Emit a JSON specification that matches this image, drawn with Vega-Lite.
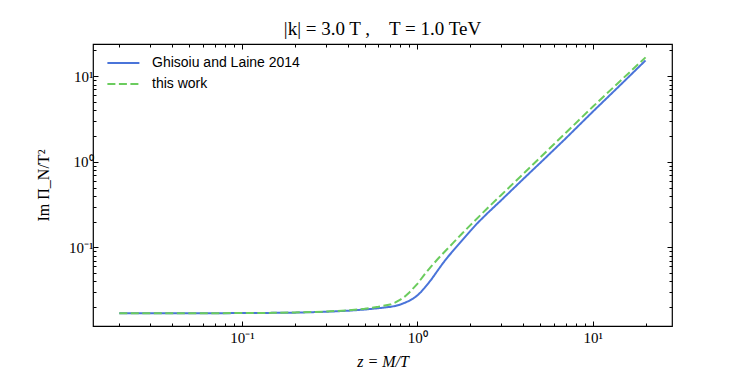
{
  "$schema": "https://vega.github.io/schema/vega-lite/v6.json",
  "width": 579,
  "height": 282,
  "autosize": {"type": "none"},
  "padding": {"left": 93, "top": 44, "right": 75, "bottom": 48},
  "background": "white",
  "title": {
    "text": "|k| = 3.0 T ,\u00a0\u00a0\u00a0\u00a0T = 1.0 TeV",
    "font": "Liberation Serif",
    "fontSize": 19,
    "fontWeight": "normal",
    "color": "black",
    "offset": 4
  },
  "config": {
    "view": {"stroke": "black", "strokeWidth": 1.2},
    "axis": {
      "grid": false,
      "domain": false,
      "tickColor": "black",
      "tickWidth": 1,
      "labelFont": "Liberation Serif",
      "labelFontSize": 15,
      "labelColor": "black",
      "titleFont": "Liberation Serif",
      "titleFontSize": 16,
      "titleFontWeight": "normal",
      "titleColor": "black"
    }
  },
  "data": {
    "values": [
      {"z": 0.02, "y": 0.0170, "s": "Ghisoiu and Laine 2014"},
      {"z": 0.03, "y": 0.0170, "s": "Ghisoiu and Laine 2014"},
      {"z": 0.05, "y": 0.01702, "s": "Ghisoiu and Laine 2014"},
      {"z": 0.07, "y": 0.01705, "s": "Ghisoiu and Laine 2014"},
      {"z": 0.1, "y": 0.0171, "s": "Ghisoiu and Laine 2014"},
      {"z": 0.15, "y": 0.0172, "s": "Ghisoiu and Laine 2014"},
      {"z": 0.2, "y": 0.0173, "s": "Ghisoiu and Laine 2014"},
      {"z": 0.3, "y": 0.0177, "s": "Ghisoiu and Laine 2014"},
      {"z": 0.4, "y": 0.0182, "s": "Ghisoiu and Laine 2014"},
      {"z": 0.5, "y": 0.0188, "s": "Ghisoiu and Laine 2014"},
      {"z": 0.6, "y": 0.0195, "s": "Ghisoiu and Laine 2014"},
      {"z": 0.7, "y": 0.0202, "s": "Ghisoiu and Laine 2014"},
      {"z": 0.75, "y": 0.0207, "s": "Ghisoiu and Laine 2014"},
      {"z": 0.8, "y": 0.0215, "s": "Ghisoiu and Laine 2014"},
      {"z": 0.85, "y": 0.0226, "s": "Ghisoiu and Laine 2014"},
      {"z": 0.9, "y": 0.0238, "s": "Ghisoiu and Laine 2014"},
      {"z": 0.95, "y": 0.0254, "s": "Ghisoiu and Laine 2014"},
      {"z": 1.0, "y": 0.0275, "s": "Ghisoiu and Laine 2014"},
      {"z": 1.05, "y": 0.0302, "s": "Ghisoiu and Laine 2014"},
      {"z": 1.1, "y": 0.0337, "s": "Ghisoiu and Laine 2014"},
      {"z": 1.2, "y": 0.0420, "s": "Ghisoiu and Laine 2014"},
      {"z": 1.3, "y": 0.0530, "s": "Ghisoiu and Laine 2014"},
      {"z": 1.4, "y": 0.0655, "s": "Ghisoiu and Laine 2014"},
      {"z": 1.5, "y": 0.0784, "s": "Ghisoiu and Laine 2014"},
      {"z": 1.6, "y": 0.0915, "s": "Ghisoiu and Laine 2014"},
      {"z": 1.8, "y": 0.121, "s": "Ghisoiu and Laine 2014"},
      {"z": 2.0, "y": 0.155, "s": "Ghisoiu and Laine 2014"},
      {"z": 2.2, "y": 0.192, "s": "Ghisoiu and Laine 2014"},
      {"z": 2.5, "y": 0.249, "s": "Ghisoiu and Laine 2014"},
      {"z": 3.0, "y": 0.354, "s": "Ghisoiu and Laine 2014"},
      {"z": 4.0, "y": 0.625, "s": "Ghisoiu and Laine 2014"},
      {"z": 5.0, "y": 0.965, "s": "Ghisoiu and Laine 2014"},
      {"z": 7.0, "y": 1.87, "s": "Ghisoiu and Laine 2014"},
      {"z": 10.0, "y": 3.85, "s": "Ghisoiu and Laine 2014"},
      {"z": 14.0, "y": 7.5, "s": "Ghisoiu and Laine 2014"},
      {"z": 20.0, "y": 15.3, "s": "Ghisoiu and Laine 2014"},
      {"z": 0.02, "y": 0.0170, "s": "this work"},
      {"z": 0.03, "y": 0.0170, "s": "this work"},
      {"z": 0.05, "y": 0.01702, "s": "this work"},
      {"z": 0.07, "y": 0.01706, "s": "this work"},
      {"z": 0.1, "y": 0.0171, "s": "this work"},
      {"z": 0.15, "y": 0.0172, "s": "this work"},
      {"z": 0.2, "y": 0.0174, "s": "this work"},
      {"z": 0.3, "y": 0.0178, "s": "this work"},
      {"z": 0.4, "y": 0.0184, "s": "this work"},
      {"z": 0.5, "y": 0.0192, "s": "this work"},
      {"z": 0.6, "y": 0.0203, "s": "this work"},
      {"z": 0.7, "y": 0.0215, "s": "this work"},
      {"z": 0.75, "y": 0.0228, "s": "this work"},
      {"z": 0.8, "y": 0.0245, "s": "this work"},
      {"z": 0.85, "y": 0.0268, "s": "this work"},
      {"z": 0.9, "y": 0.0298, "s": "this work"},
      {"z": 0.95, "y": 0.0335, "s": "this work"},
      {"z": 1.0, "y": 0.0375, "s": "this work"},
      {"z": 1.1, "y": 0.0484, "s": "this work"},
      {"z": 1.2, "y": 0.0600, "s": "this work"},
      {"z": 1.3, "y": 0.0722, "s": "this work"},
      {"z": 1.4, "y": 0.0850, "s": "this work"},
      {"z": 1.5, "y": 0.0985, "s": "this work"},
      {"z": 1.6, "y": 0.1130, "s": "this work"},
      {"z": 1.8, "y": 0.1455, "s": "this work"},
      {"z": 2.0, "y": 0.181, "s": "this work"},
      {"z": 2.5, "y": 0.285, "s": "this work"},
      {"z": 3.0, "y": 0.408, "s": "this work"},
      {"z": 4.0, "y": 0.718, "s": "this work"},
      {"z": 5.0, "y": 1.115, "s": "this work"},
      {"z": 7.0, "y": 2.17, "s": "this work"},
      {"z": 10.0, "y": 4.40, "s": "this work"},
      {"z": 14.0, "y": 8.4, "s": "this work"},
      {"z": 20.0, "y": 16.6, "s": "this work"}
    ]
  },
  "encoding": {
    "color": {
      "field": "s",
      "type": "nominal",
      "scale": {"domain": ["Ghisoiu and Laine 2014", "this work"], "range": ["#4a74d9", "#6bcc5e"]},
      "legend": {
        "title": null,
        "orient": "none",
        "legendX": 23.4,
        "legendY": 12,
        "padding": 0,
        "labelFont": "Liberation Sans",
        "labelFontSize": 14,
        "labelColor": "black",
        "symbolType": "M-3.2,0L3.2,0",
        "symbolSize": 100,
        "symbolStrokeWidth": 2,
        "labelOffset": 21.6,
        "rowPadding": 7
      }
    },
    "strokeDash": {
      "field": "s",
      "type": "nominal",
      "scale": {"domain": ["Ghisoiu and Laine 2014", "this work"], "range": [[1, 0], [8, 3.5]]},
      "legend": {
        "title": null,
        "orient": "none",
        "legendX": 23.4,
        "legendY": 12,
        "padding": 0,
        "labelFont": "Liberation Sans",
        "labelFontSize": 14,
        "labelColor": "black",
        "symbolType": "M-3.2,0L3.2,0",
        "symbolSize": 100,
        "symbolStrokeWidth": 2,
        "labelOffset": 21.6,
        "rowPadding": 7
      }
    }
  },
  "layer": [
    {
      "transform": [{"filter": "datum.s == 'Ghisoiu and Laine 2014'"}],
      "mark": {"type": "line", "strokeWidth": 2, "clip": true},
      "encoding": {
        "x": {
          "field": "z",
          "type": "quantitative",
          "scale": {"type": "log", "domain": [0.01416, 28.3], "nice": false, "zero": false},
          "axis": {
            "orient": "bottom",
            "title": "z = M/T",
            "titleFontStyle": "italic",
            "titlePadding": 6,
            "values": [0.02, 0.03, 0.04, 0.05, 0.06, 0.07, 0.08, 0.09, 0.1, 0.2, 0.3, 0.4, 0.5, 0.6, 0.7, 0.8, 0.9, 1, 2, 3, 4, 5, 6, 7, 8, 9, 10, 20],
            "labelExpr": "datum.value == 0.1 ? '10⁻¹' : datum.value == 1 ? '10⁰' : datum.value == 10 ? '10¹' : ''",
            "tickSize": {"condition": {"test": "datum.value == 0.1 || datum.value == 1 || datum.value == 10", "value": -5}, "value": -3},
            "labelPadding": 9,
            "labelOverlap": false,
            "labelFlush": false
          }
        },
        "y": {
          "field": "y",
          "type": "quantitative",
          "scale": {"type": "log", "domain": [0.01208, 23.8], "nice": false, "zero": false},
          "axis": {
            "orient": "left",
            "title": "Im Π_N/T²",
            "titlePadding": 17,
            "values": [0.02, 0.03, 0.04, 0.05, 0.06, 0.07, 0.08, 0.09, 0.1, 0.2, 0.3, 0.4, 0.5, 0.6, 0.7, 0.8, 0.9, 1, 2, 3, 4, 5, 6, 7, 8, 9, 10, 20],
            "labelExpr": "datum.value == 0.1 ? '10⁻¹' : datum.value == 1 ? '10⁰' : datum.value == 10 ? '10¹' : ''",
            "tickSize": {"condition": {"test": "datum.value == 0.1 || datum.value == 1 || datum.value == 10", "value": -5}, "value": -3},
            "labelPadding": 5,
            "labelOverlap": false,
            "labelFlush": false
          }
        }
      }
    },
    {
      "transform": [{"filter": "datum.s == 'this work'"}],
      "mark": {"type": "line", "strokeWidth": 2, "clip": true},
      "encoding": {
        "x": {
          "field": "z",
          "type": "quantitative",
          "scale": {"type": "log", "domain": [0.01416, 28.3], "nice": false, "zero": false},
          "axis": {
            "orient": "top",
            "title": null,
            "labels": false,
            "values": [0.02, 0.03, 0.04, 0.05, 0.06, 0.07, 0.08, 0.09, 0.1, 0.2, 0.3, 0.4, 0.5, 0.6, 0.7, 0.8, 0.9, 1, 2, 3, 4, 5, 6, 7, 8, 9, 10, 20],
            "tickSize": {"condition": {"test": "datum.value == 0.1 || datum.value == 1 || datum.value == 10", "value": -5}, "value": -3}
          }
        },
        "y": {
          "field": "y",
          "type": "quantitative",
          "scale": {"type": "log", "domain": [0.01208, 23.8], "nice": false, "zero": false},
          "axis": {
            "orient": "right",
            "title": null,
            "labels": false,
            "values": [0.02, 0.03, 0.04, 0.05, 0.06, 0.07, 0.08, 0.09, 0.1, 0.2, 0.3, 0.4, 0.5, 0.6, 0.7, 0.8, 0.9, 1, 2, 3, 4, 5, 6, 7, 8, 9, 10, 20],
            "tickSize": {"condition": {"test": "datum.value == 0.1 || datum.value == 1 || datum.value == 10", "value": -5}, "value": -3}
          }
        }
      }
    }
  ],
  "resolve": {"axis": {"x": "independent", "y": "independent"}}
}
